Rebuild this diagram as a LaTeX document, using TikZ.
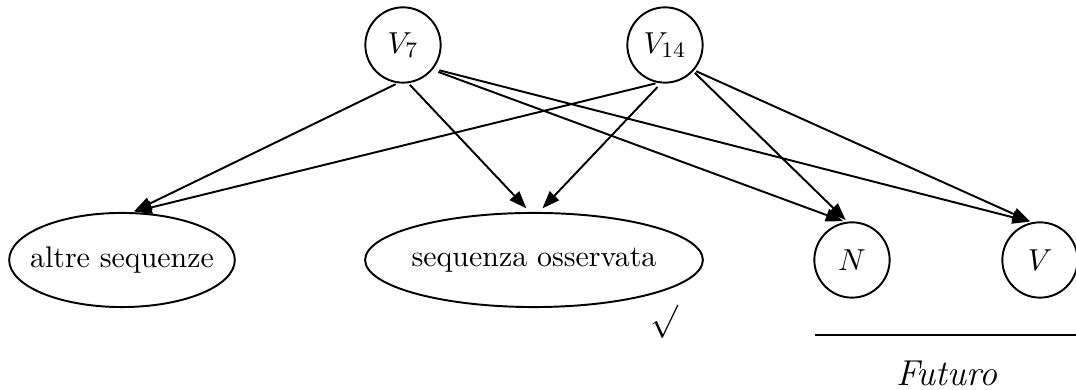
\documentclass[tikz,border=0pt]{standalone}
\usetikzlibrary{shapes.geometric,arrows.meta}
\begin{document}
\begin{tikzpicture}[x=0.0127cm,y=-0.0127cm,
  every node/.style={font=\fontsize{10.8}{13}\selectfont},
  circnode/.style={draw,circle,line width=0.7pt,inner sep=0pt,minimum size=27.2pt},
  ellnode/.style={draw,ellipse,line width=0.7pt,inner sep=0pt,minimum height=34pt},
  edge/.style={line width=0.7pt,-{Triangle[length=6.3pt,width=4.6pt]},shorten <=0.8pt,shorten >=0.8pt}]
\useasboundingbox (0,0) rectangle (1076,390);
\node[circnode] (v7) at (403,45) {$V_7$};
\node[circnode] (v14) at (665,45) {$V_{14}$};
\node[ellnode,minimum width=81.5pt] (altre) at (122,260) {\makebox[0pt]{altre sequenze}};
\node[ellnode,minimum width=122pt] (seq) at (534,260) {\makebox[0pt]{sequenza osservata}};
\node[circnode] (n) at (852,260) {$N$};
\node[circnode] (v) at (1040,260) {$V$};
\node[font=\fontsize{13}{15}\selectfont] (check) at (664,322) {$\surd$};
\coordinate (fl) at (815,335);
\coordinate (fr) at (1076,335);
\draw[line width=0.7pt] (fl) -- (fr);
\node[font=\fontsize{13}{15}\selectfont] (fut) at (947,373) {\textit{Futuro}};
\draw[edge] (v7.-98) -- (altre.78);
\draw[edge,shorten >=1.8pt] (v7.-82) -- (seq.95);
\draw[edge,shorten <=2.2pt] (v7.-40) -- (n.100);
\draw[edge,shorten <=2.2pt] (v7.-38) -- (v.102);
\draw[edge] (v14.-101) -- (altre.78);
\draw[edge,shorten <=1.8pt,shorten >=1.8pt] (v14.-96) -- (seq.84);
\draw[edge] (v14.-43) -- (n.97);
\draw[edge] (v14.-41) -- (v.102);
\end{tikzpicture}
\end{document}
